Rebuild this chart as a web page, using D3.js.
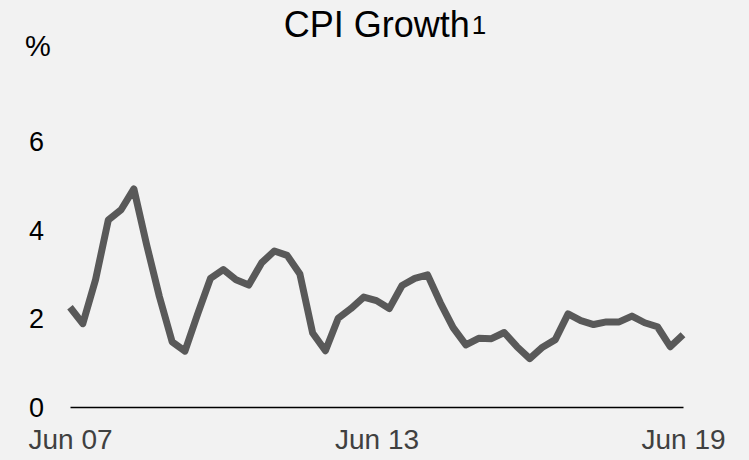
<!DOCTYPE html>
<html>
<head>
<meta charset="utf-8">
<script src="https://cdn.jsdelivr.net/npm/d3@7"></script>
<style>
  body { margin: 0; background: #f2f2f2; }
  svg { display: block; font-family: "Liberation Sans", Arial, sans-serif; }
</style>
</head>
<body>
<div class="chart"></div>
<script>
// quarterly labels, Jun 07 .. Jun 19
var months = ["Jun", "Sep", "Dec", "Mar"];
var quarters = [];
for (var i = 0; i < 49; i++) {
  var yr = 7 + Math.floor((i + 2) / 4);
  quarters.push(months[i % 4] + " " + (yr < 10 ? "0" + yr : yr));
}

// CPI growth, %
var cpi = [2.25, 1.88, 2.87, 4.22, 4.45, 4.92, 3.66, 2.49, 1.47, 1.26,
           2.1, 2.9, 3.1, 2.87, 2.75, 3.25, 3.52, 3.42, 3.0, 1.67,
           1.27, 2.0, 2.22, 2.48, 2.4, 2.22, 2.74, 2.9, 2.98, 2.35,
           1.79, 1.4, 1.55, 1.54, 1.68, 1.36, 1.09, 1.35, 1.52, 2.1,
           1.95, 1.86, 1.92, 1.92, 2.05, 1.9, 1.81, 1.36, 1.63];

var xTicks = ["Jun 07", "Jun 13", "Jun 19"];
var yTicks = [0, 2, 4, 6];

var svgWidth = 749;
var svgHeight = 460;

var svg = d3.select(".chart")
  .append("svg")
    .attr("width", svgWidth)
    .attr("height", svgHeight);

svg.append("rect")
  .attr("width", svgWidth)
  .attr("height", svgHeight)
  .attr("fill", "#f2f2f2");

var x = d3.scalePoint().domain(quarters).range([70, 683]);
var y = d3.scaleLinear().domain([0, 6]).range([407, 141]);

// title
var title = svg.append("text")
  .attr("x", 385)
  .attr("y", 37)
  .attr("text-anchor", "middle")
  .attr("font-size", "36px")
  .attr("fill", "#000");
title.append("tspan").text("CPI Growth");
title.append("tspan").attr("font-size", "26px").attr("dy", "-3").attr("dx", "2").text("1");

// unit label
svg.append("text")
  .attr("x", 25)
  .attr("y", 56)
  .attr("font-size", "29px")
  .attr("fill", "#000")
  .text("%");

// y axis (labels only)
var yAxis = svg.append("g")
  .call(d3.axisLeft(y).tickValues(yTicks).tickSize(0).tickFormat(d3.format("d")));
yAxis.select(".domain").remove();
yAxis.selectAll("text")
  .attr("x", 29)
  .attr("dy", "0.35em")
  .attr("text-anchor", "start")
  .attr("font-size", "27px")
  .attr("font-family", null)
  .attr("fill", "#000");

// x axis along zero
var xAxis = svg.append("g")
  .attr("transform", "translate(0," + y(0) + ")")
  .call(d3.axisBottom(x).tickValues(xTicks).tickSize(0));
xAxis.select(".domain")
  .attr("stroke", "#000")
  .attr("stroke-width", 1.5);
xAxis.selectAll("text")
  .attr("y", 42)
  .attr("dy", "0")
  .attr("font-size", "28px")
  .attr("font-family", null)
  .attr("fill", "#404040");

// the series
var line = d3.line()
  .x(function(d, i) { return x(quarters[i]); })
  .y(function(d) { return y(d); });

svg.append("path")
  .datum(cpi)
  .attr("d", line)
  .attr("fill", "none")
  .attr("stroke", "#595959")
  .attr("stroke-width", 7)
  .attr("stroke-linejoin", "round");
</script>
</body>
</html>
